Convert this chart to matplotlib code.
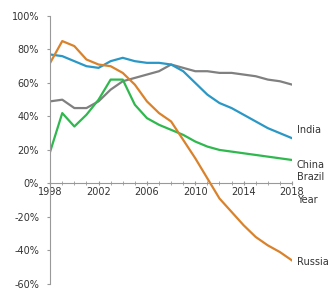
import numpy as np
import matplotlib.pyplot as plt

years = np.arange(1998, 2019)

# share (%) per country
india = [77, 76, 73, 70, 69, 73, 75, 73, 72, 72, 71, 67, 60, 53, 48, 45, 41, 37, 33, 30, 27]
russia = [72, 85, 82, 74, 71, 70, 66, 59, 49, 42, 37, 26, 15, 3, -9, -17, -25, -32, -37, -41, -46]
china = [19, 42, 34, 41, 50, 62, 62, 47, 39, 35, 32, 29, 25, 22, 20, 19, 18, 17, 16, 15, 14]
brazil = [49, 50, 45, 45, 49, 56, 61, 63, 65, 67, 71, 69, 67, 67, 66, 66, 65, 64, 62, 61, 59]

yticks = [100, 80, 60, 40, 20, 0, -20, -40, -60]
xticks = [1998, 2002, 2006, 2010, 2014, 2018]

fig = plt.figure(figsize=(3.3, 2.9), dpi=100)
ax = fig.add_axes([0.152, 0.021, 0.733, 0.924])

ax.plot(years, brazil, color="#808080", lw=1.6)
ax.plot(years, india, color="#2a98c6", lw=1.6)
ax.plot(years, china, color="#2fb84e", lw=1.6)
ax.plot(years, russia, color="#d9822b", lw=1.6)

ax.set_xlim(1998, 2018)
ax.set_ylim(-60, 100)

ax.spines["top"].set_visible(False)
ax.spines["right"].set_visible(False)
ax.spines["bottom"].set_position(("data", 0))
ax.spines["left"].set_color("#999999")
ax.spines["bottom"].set_color("#999999")

ax.set_yticks(yticks)
ax.set_yticklabels([f"{v}%" for v in yticks])
ax.set_xticks(xticks)
ax.set_xticks(years, minor=True)
ax.tick_params(axis="y", length=2, color="#999999", labelsize=7, labelcolor="#333333", pad=6)
ax.tick_params(axis="x", which="both", direction="inout", length=3, color="#999999",
               labelsize=7, labelcolor="#333333", pad=1)

lab = dict(fontsize=7, color="#333333", ha="left", va="center", transform=ax.transData, clip_on=False)
ax.text(2018.4, 32, "India", **lab)
ax.text(2018.4, 11, "China", **lab)
ax.text(2018.4, 4, "Brazil", **lab)
ax.text(2018.4, -10, "Year", **lab)
ax.text(2018.4, -47, "Russia", **lab)

fig.savefig("out.png", dpi=100)
